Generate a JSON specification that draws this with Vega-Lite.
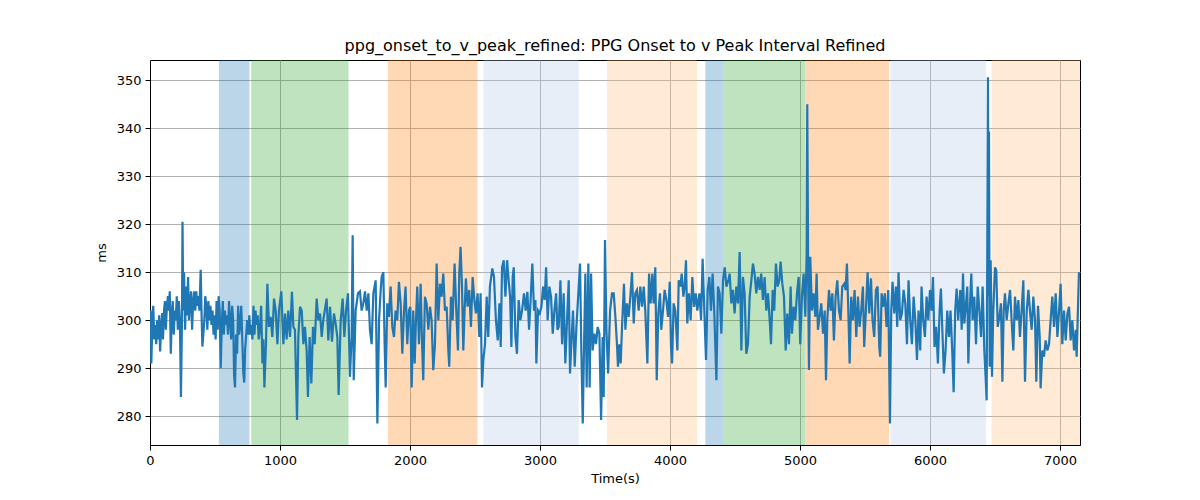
{
  "$schema": "https://vega.github.io/schema/vega-lite/v6.json",
  "width": 930,
  "height": 385,
  "autosize": {"type": "none"},
  "padding": {"left": 150, "top": 60, "right": 120, "bottom": 55},
  "background": "white",
  "config": {
    "font": "DejaVu Sans",
    "view": {"stroke": "black", "strokeWidth": 1},
    "axis": {
      "labelFont": "DejaVu Sans",
      "labelFontSize": 13,
      "labelColor": "black",
      "labelFlush": false,
      "titleFont": "DejaVu Sans",
      "titleFontSize": 13,
      "titleFontWeight": "normal",
      "titleColor": "black",
      "domainColor": "black",
      "tickColor": "black",
      "tickSize": 5,
      "labelPadding": 4,
      "gridColor": "#b0b0b0",
      "gridWidth": 1
    }
  },
  "title": {
    "text": "ppg_onset_to_v_peak_refined: PPG Onset to v Peak Interval Refined",
    "fontSize": 16,
    "fontWeight": "normal",
    "font": "DejaVu Sans",
    "color": "black",
    "offset": 6
  },
  "datasets": {
    "regions": [
      {"start": 530, "end": 765, "seg": "A"},
      {"start": 779, "end": 1527, "seg": "B"},
      {"start": 1831, "end": 2519, "seg": "C"},
      {"start": 2564, "end": 3298, "seg": "D"},
      {"start": 3515, "end": 4208, "seg": "E"},
      {"start": 4272, "end": 4410, "seg": "A"},
      {"start": 4410, "end": 5040, "seg": "B"},
      {"start": 5040, "end": 5685, "seg": "C"},
      {"start": 5697, "end": 6431, "seg": "D"},
      {"start": 6474, "end": 7154, "seg": "E"}
    ],
    "series": [
      {"t":0,"v":300},{"t":5,"v":302},{"t":10,"v":291},{"t":18,"v":299},{"t":25,"v":303},{"t":33,"v":296},{"t":40,"v":299},{"t":48,"v":295},{"t":55,"v":300},{"t":63,"v":296},
      {"t":70,"v":301},{"t":78,"v":293.5},{"t":86,"v":299},{"t":94,"v":301.5},{"t":100,"v":296},{"t":108,"v":302},{"t":115,"v":304},{"t":122,"v":298},{"t":130,"v":303},{"t":138,"v":305},
      {"t":145,"v":302},{"t":152,"v":306},{"t":160,"v":293},{"t":168,"v":301},{"t":175,"v":304},{"t":183,"v":297},{"t":190,"v":302},{"t":198,"v":300},{"t":206,"v":305},{"t":214,"v":298},
      {"t":222,"v":304},{"t":230,"v":300},{"t":238,"v":284},{"t":246,"v":300},{"t":250,"v":320.5},{"t":256,"v":302},{"t":262,"v":310},{"t":270,"v":298},{"t":278,"v":307},{"t":285,"v":301},
      {"t":293,"v":309},{"t":300,"v":300},{"t":308,"v":304},{"t":316,"v":306},{"t":324,"v":298},{"t":332,"v":304},{"t":340,"v":306},{"t":348,"v":302},{"t":356,"v":306},{"t":364,"v":303},
      {"t":372,"v":305},{"t":380,"v":302},{"t":390,"v":310.5},{"t":396,"v":302},{"t":403,"v":294.5},{"t":410,"v":297},{"t":418,"v":300},{"t":425,"v":305},{"t":433,"v":303},{"t":441,"v":298},
      {"t":449,"v":304},{"t":457,"v":300},{"t":465,"v":303},{"t":473,"v":299},{"t":481,"v":302},{"t":489,"v":297},{"t":497,"v":301},{"t":505,"v":296},{"t":512,"v":304},{"t":520,"v":298},
      {"t":528,"v":305},{"t":536,"v":302},{"t":544,"v":290},{"t":552,"v":299},{"t":560,"v":304},{"t":568,"v":297},{"t":576,"v":302},{"t":584,"v":299},{"t":592,"v":301},{"t":600,"v":297},
      {"t":608,"v":304},{"t":616,"v":300},{"t":624,"v":296},{"t":632,"v":303},{"t":640,"v":300},{"t":647,"v":288.5},{"t":654,"v":286},{"t":662,"v":297},{"t":670,"v":293},{"t":678,"v":303},
      {"t":686,"v":297},{"t":694,"v":299},{"t":702,"v":303},{"t":710,"v":296},{"t":718,"v":289},{"t":725,"v":287},{"t":732,"v":294},{"t":740,"v":297},{"t":748,"v":300},{"t":756,"v":297},
      {"t":764,"v":301},{"t":772,"v":297},{"t":780,"v":299},{"t":788,"v":296},{"t":796,"v":303},{"t":804,"v":297},{"t":812,"v":302},{"t":820,"v":299},{"t":828,"v":301},{"t":836,"v":296},
      {"t":845,"v":298},{"t":855,"v":303},{"t":865,"v":291},{"t":872,"v":296},{"t":880,"v":286},
      {"t":892,"v":295},{"t":903,"v":307.6},{"t":915,"v":298.6},{"t":928,"v":300.7},{"t":941,"v":296.5},{"t":954,"v":304.5},{"t":967,"v":302},{"t":980,"v":295},{"t":992,"v":302},{"t":1010,"v":306},
      {"t":1026,"v":295},{"t":1039,"v":301.4},{"t":1051,"v":296},{"t":1064,"v":302},{"t":1077,"v":296.5},{"t":1092,"v":305.9},{"t":1103,"v":298.6},{"t":1115,"v":298},{"t":1131,"v":279.2},{"t":1141,"v":296.5},
      {"t":1154,"v":302.8},{"t":1167,"v":302},{"t":1180,"v":295},{"t":1192,"v":298.6},{"t":1205,"v":293.7},{"t":1215,"v":284},{"t":1228,"v":296.5},{"t":1241,"v":286.8},{"t":1254,"v":298.6},{"t":1267,"v":295},
      {"t":1282,"v":304.5},{"t":1295,"v":300},{"t":1308,"v":301.4},{"t":1321,"v":296.5},{"t":1333,"v":300},{"t":1349,"v":302.8},{"t":1359,"v":304.5},{"t":1372,"v":295.8},{"t":1385,"v":302.8},{"t":1400,"v":295.5},
      {"t":1415,"v":301.4},{"t":1428,"v":299.3},{"t":1441,"v":296.5},{"t":1451,"v":284.4},{"t":1467,"v":300},{"t":1482,"v":304.5},{"t":1495,"v":296.5},{"t":1508,"v":302},{"t":1523,"v":305.6},{"t":1538,"v":288.2},
      {"t":1551,"v":296.5},{"t":1559,"v":317.7},{"t":1567,"v":287.5},{"t":1582,"v":302},{"t":1600,"v":305.6},{"t":1615,"v":306},{"t":1628,"v":302},{"t":1641,"v":303.5},{"t":1654,"v":306},{"t":1667,"v":302},
      {"t":1680,"v":305.6},{"t":1692,"v":298},{"t":1705,"v":295},{"t":1718,"v":305.6},{"t":1736,"v":308.3},{"t":1749,"v":278.5},{"t":1762,"v":300},{"t":1774,"v":306},
      {"t":1782,"v":309},{"t":1795,"v":310},{"t":1805,"v":295},{"t":1813,"v":286},{"t":1825,"v":303.5},{"t":1838,"v":300.7},{"t":1851,"v":307},{"t":1864,"v":298.6},{"t":1877,"v":296.5},{"t":1889,"v":302},
      {"t":1902,"v":300},{"t":1915,"v":308},{"t":1928,"v":303.5},{"t":1941,"v":293},{"t":1954,"v":302},{"t":1966,"v":307},{"t":1979,"v":295},{"t":1992,"v":302},{"t":2002,"v":302.8},{"t":2013,"v":286},
      {"t":2025,"v":302},{"t":2036,"v":291},{"t":2046,"v":300},{"t":2056,"v":307},{"t":2069,"v":295},{"t":2082,"v":307.6},{"t":2092,"v":295.8},{"t":2102,"v":287.5},{"t":2115,"v":304.9},{"t":2128,"v":303.5},
      {"t":2141,"v":298},{"t":2154,"v":302.8},{"t":2166,"v":300},{"t":2179,"v":289.6},{"t":2192,"v":295},{"t":2205,"v":311.8},{"t":2218,"v":300},{"t":2231,"v":307.6},{"t":2243,"v":304.9},{"t":2256,"v":309.7},
      {"t":2269,"v":302},{"t":2282,"v":302.8},{"t":2295,"v":293.7},{"t":2302,"v":290.3},{"t":2315,"v":304.9},{"t":2328,"v":300},{"t":2343,"v":311.8},{"t":2356,"v":302},{"t":2369,"v":293.7},{"t":2379,"v":309.7},
      {"t":2389,"v":315.3},{"t":2400,"v":307},{"t":2410,"v":293.7},{"t":2420,"v":302},{"t":2430,"v":308.7},{"t":2443,"v":302.8},{"t":2456,"v":306.3},{"t":2469,"v":298.6},{"t":2482,"v":309},{"t":2495,"v":304.2},
      {"t":2507,"v":301.4},{"t":2520,"v":305.6},{"t":2533,"v":296.5},{"t":2543,"v":305.6},{"t":2554,"v":286},{"t":2564,"v":291.7},{"t":2577,"v":295},{"t":2590,"v":304.9},{"t":2602,"v":296.5},{"t":2615,"v":307},
      {"t":2633,"v":310.8},{"t":2646,"v":309},{"t":2661,"v":300},
      {"t":2675,"v":295.8},{"t":2688,"v":303.5},{"t":2698,"v":294.4},{"t":2708,"v":311},{"t":2721,"v":312.5},{"t":2734,"v":304.9},{"t":2747,"v":312.5},{"t":2759,"v":308.3},{"t":2770,"v":304.9},{"t":2780,"v":294.4},
      {"t":2790,"v":309},{"t":2798,"v":311},{"t":2811,"v":296.5},{"t":2823,"v":293},{"t":2836,"v":304.2},{"t":2849,"v":300},{"t":2862,"v":302},{"t":2877,"v":305.6},{"t":2890,"v":302},{"t":2903,"v":305.9},
      {"t":2916,"v":298},{"t":2929,"v":304.9},{"t":2941,"v":311.8},{"t":2954,"v":302},{"t":2965,"v":304.2},{"t":2972,"v":291},{"t":2985,"v":302},{"t":2998,"v":301.4},{"t":3011,"v":302.8},{"t":3024,"v":307},
      {"t":3036,"v":304.2},{"t":3047,"v":311},{"t":3059,"v":300},{"t":3072,"v":307},{"t":3085,"v":304.9},{"t":3098,"v":297.2},{"t":3111,"v":302},{"t":3124,"v":305.6},{"t":3134,"v":298},{"t":3144,"v":298.6},
      {"t":3157,"v":308.3},{"t":3170,"v":295},{"t":3182,"v":305.6},{"t":3195,"v":291},{"t":3208,"v":300},{"t":3221,"v":308.3},{"t":3231,"v":288.9},{"t":3241,"v":295},{"t":3254,"v":302},{"t":3267,"v":290.3},
      {"t":3280,"v":298.6},{"t":3295,"v":305.6},{"t":3308,"v":311.8},{"t":3318,"v":293.7},{"t":3329,"v":278.5},{"t":3339,"v":295},{"t":3349,"v":309.7},{"t":3359,"v":286},{"t":3372,"v":311.8},{"t":3382,"v":286},
      {"t":3393,"v":309.7},{"t":3405,"v":293.7},{"t":3418,"v":297.2},{"t":3431,"v":295},{"t":3444,"v":298.6},{"t":3457,"v":297.2},{"t":3470,"v":279.2},{"t":3482,"v":296.5},{"t":3490,"v":284},{"t":3500,"v":316.7},
      {"t":3511,"v":298},{"t":3524,"v":288.9},{"t":3539,"v":302},{"t":3554,"v":305.6},
      {"t":3567,"v":305.6},{"t":3580,"v":300.7},{"t":3592,"v":295},{"t":3600,"v":290.3},{"t":3610,"v":295},{"t":3621,"v":291},{"t":3631,"v":298.6},{"t":3646,"v":307.6},{"t":3657,"v":298},{"t":3669,"v":303.5},
      {"t":3682,"v":300.7},{"t":3695,"v":304.9},{"t":3708,"v":310},{"t":3721,"v":299.3},{"t":3733,"v":305.6},{"t":3746,"v":306.3},{"t":3759,"v":302},{"t":3772,"v":307},{"t":3785,"v":302.8},{"t":3798,"v":307},
      {"t":3810,"v":302},{"t":3826,"v":291},{"t":3839,"v":309.7},{"t":3851,"v":303.5},{"t":3864,"v":309.7},{"t":3874,"v":303.5},{"t":3887,"v":311},{"t":3898,"v":287.5},{"t":3910,"v":301.4},{"t":3923,"v":305.6},
      {"t":3933,"v":298},{"t":3946,"v":302},{"t":3959,"v":306.3},{"t":3972,"v":304.2},{"t":3985,"v":300.7},{"t":3998,"v":308},{"t":4008,"v":294.4},{"t":4016,"v":291},{"t":4028,"v":303.5},{"t":4041,"v":302},
      {"t":4057,"v":293.7},{"t":4067,"v":308.3},{"t":4080,"v":307},{"t":4090,"v":309.7},{"t":4103,"v":304.9},{"t":4113,"v":307},{"t":4123,"v":312.5},{"t":4133,"v":299.3},{"t":4146,"v":305.6},{"t":4159,"v":300},
      {"t":4172,"v":309},{"t":4185,"v":302.8},{"t":4198,"v":305.6},{"t":4210,"v":302},{"t":4226,"v":305.6},{"t":4239,"v":300},{"t":4251,"v":312.8},{"t":4264,"v":302},{"t":4277,"v":291.7},{"t":4290,"v":306.3},
      {"t":4303,"v":309},{"t":4315,"v":302},{"t":4328,"v":309.7},{"t":4341,"v":301.4},{"t":4357,"v":287.5},{"t":4369,"v":307},{"t":4382,"v":305.6},{"t":4395,"v":297.2},{"t":4408,"v":308.3},{"t":4421,"v":311},
      {"t":4434,"v":307},{"t":4449,"v":308.3},
      {"t":4459,"v":309.7},{"t":4472,"v":303.5},{"t":4484,"v":306.3},{"t":4497,"v":301.4},{"t":4510,"v":307},{"t":4523,"v":303.5},{"t":4536,"v":314.2},{"t":4549,"v":293.7},{"t":4561,"v":309},{"t":4574,"v":305.6},
      {"t":4587,"v":293},{"t":4600,"v":295},{"t":4613,"v":304.9},{"t":4626,"v":308.3},{"t":4638,"v":311.8},{"t":4651,"v":309.7},{"t":4664,"v":305.6},{"t":4677,"v":309},{"t":4690,"v":306.3},{"t":4702,"v":309.7},
      {"t":4715,"v":304.2},{"t":4728,"v":309},{"t":4741,"v":302},{"t":4754,"v":305.6},{"t":4767,"v":300},{"t":4777,"v":295},{"t":4790,"v":306.3},{"t":4802,"v":302},{"t":4815,"v":311.8},{"t":4828,"v":307},
      {"t":4841,"v":308.3},{"t":4851,"v":312.2},{"t":4864,"v":307.6},{"t":4877,"v":304.9},{"t":4890,"v":293.7},{"t":4902,"v":301.4},{"t":4915,"v":295},{"t":4928,"v":307},{"t":4938,"v":297.2},{"t":4951,"v":302.8},
      {"t":4964,"v":300},{"t":4977,"v":305.6},{"t":4990,"v":309},{"t":5002,"v":295},{"t":5015,"v":304.9},{"t":5028,"v":309.7},{"t":5041,"v":300.7},{"t":5051,"v":313.9},{"t":5056,"v":345},{"t":5064,"v":305},
      {"t":5069,"v":289.6},{"t":5079,"v":313.2},{"t":5092,"v":302},{"t":5105,"v":305.6},{"t":5118,"v":300.7},{"t":5128,"v":309.7},{"t":5138,"v":298},{"t":5151,"v":300.7},{"t":5164,"v":303.5},{"t":5177,"v":297.2},
      {"t":5190,"v":302},{"t":5200,"v":287.5},{"t":5210,"v":300},{"t":5223,"v":306.3},{"t":5236,"v":302},{"t":5249,"v":305.6},{"t":5261,"v":295.8},{"t":5274,"v":304.9},{"t":5287,"v":308.3},{"t":5300,"v":302},
      {"t":5313,"v":300},{"t":5325,"v":307},{"t":5341,"v":307.6},
      {"t":5351,"v":306.3},{"t":5361,"v":311.8},{"t":5371,"v":302.8},{"t":5382,"v":291},{"t":5394,"v":304.9},{"t":5407,"v":300},{"t":5420,"v":306.3},{"t":5433,"v":296.5},{"t":5446,"v":304.9},{"t":5458,"v":298.6},
      {"t":5471,"v":302},{"t":5484,"v":307},{"t":5494,"v":294.4},{"t":5507,"v":302},{"t":5520,"v":310},{"t":5533,"v":301.4},{"t":5546,"v":308.7},{"t":5558,"v":300},{"t":5571,"v":296.5},{"t":5584,"v":306.3},
      {"t":5597,"v":307},{"t":5610,"v":294.4},{"t":5617,"v":292.4},{"t":5628,"v":305.6},{"t":5641,"v":302.8},{"t":5653,"v":305.6},{"t":5666,"v":298.6},{"t":5679,"v":306.3},{"t":5692,"v":278.5},{"t":5702,"v":302},
      {"t":5712,"v":308},{"t":5725,"v":301.4},{"t":5738,"v":307},{"t":5748,"v":298.6},{"t":5758,"v":310},{"t":5771,"v":300},{"t":5784,"v":301.4},{"t":5797,"v":306.3},{"t":5810,"v":303.5},{"t":5823,"v":295},
      {"t":5835,"v":308.3},{"t":5848,"v":300},{"t":5861,"v":295},{"t":5874,"v":304.9},{"t":5887,"v":300},{"t":5900,"v":291.7},{"t":5912,"v":302},{"t":5925,"v":293.7},{"t":5935,"v":307},{"t":5948,"v":300},
      {"t":5961,"v":296.5},{"t":5974,"v":304.9},{"t":5987,"v":300},{"t":6000,"v":306.3},{"t":6012,"v":302},{"t":6023,"v":309},{"t":6035,"v":294.4},{"t":6048,"v":298.6},{"t":6061,"v":291},{"t":6074,"v":302},
      {"t":6084,"v":306.6},{"t":6097,"v":296.5},{"t":6107,"v":288.9},{"t":6120,"v":293.7},{"t":6133,"v":302},{"t":6146,"v":296.5},{"t":6158,"v":302},{"t":6171,"v":293.7},{"t":6182,"v":285},{"t":6194,"v":302},
      {"t":6205,"v":306.6},{"t":6217,"v":300},{"t":6233,"v":306.3},
      {"t":6244,"v":298},{"t":6254,"v":309.7},{"t":6264,"v":299.3},{"t":6277,"v":303.5},{"t":6287,"v":307},{"t":6295,"v":291},{"t":6308,"v":303.5},{"t":6318,"v":309.7},{"t":6328,"v":300},{"t":6341,"v":304.9},
      {"t":6354,"v":295},{"t":6367,"v":307},{"t":6380,"v":302},{"t":6393,"v":296.5},{"t":6405,"v":307},{"t":6418,"v":293.7},{"t":6428,"v":288.2},{"t":6436,"v":283.3},{"t":6446,"v":350.6},{"t":6450,"v":305},
      {"t":6454,"v":339.3},{"t":6459,"v":290.3},{"t":6467,"v":312.5},{"t":6477,"v":288.2},{"t":6487,"v":302},{"t":6500,"v":311},{"t":6510,"v":310.4},{"t":6521,"v":298.6},{"t":6534,"v":300.7},{"t":6546,"v":303.5},
      {"t":6557,"v":287.2},{"t":6567,"v":302},{"t":6577,"v":305.6},{"t":6590,"v":300},{"t":6603,"v":303.5},{"t":6616,"v":306.3},{"t":6628,"v":300},{"t":6641,"v":293.7},{"t":6654,"v":304.9},{"t":6667,"v":300},
      {"t":6680,"v":304.2},{"t":6692,"v":296.5},{"t":6705,"v":302},{"t":6718,"v":308.3},{"t":6731,"v":287.2},{"t":6744,"v":302},{"t":6757,"v":306.3},{"t":6769,"v":302},{"t":6782,"v":298},{"t":6795,"v":304.9},
      {"t":6808,"v":300},{"t":6818,"v":287.2},{"t":6831,"v":303},{"t":6844,"v":296.5},{"t":6851,"v":285.8},{"t":6864,"v":293.7},{"t":6877,"v":292.4},{"t":6890,"v":295.8},{"t":6903,"v":293.7},{"t":6916,"v":295},
      {"t":6928,"v":300},{"t":6941,"v":304.9},{"t":6954,"v":298.6},{"t":6967,"v":305.6},{"t":6980,"v":296.5},{"t":6993,"v":302},{"t":7005,"v":307.6},{"t":7018,"v":295},{"t":7031,"v":302},{"t":7044,"v":295.8},
      {"t":7057,"v":301.4},{"t":7070,"v":302.8},{"t":7082,"v":295.8},{"t":7095,"v":300},{"t":7108,"v":293.7},{"t":7121,"v":298},{"t":7128,"v":292.4},{"t":7146,"v":310}
    ]
  },
  "layer": [
    {
      "data": {"name": "regions"},
      "mark": {"type": "rect", "opacity": 0.3},
      "encoding": {
        "x": {"field": "start", "type": "quantitative"},
        "x2": {"field": "end"},
        "color": {
          "field": "seg",
          "type": "nominal",
          "legend": null,
          "scale": {
            "domain": ["A", "B", "C", "D", "E"],
            "range": ["#1f77b4", "#2ca02c", "#ff7f0e", "#aec7e8", "#ffbb78"]
          }
        }
      }
    },
    {
      "data": {"name": "series"},
      "mark": {"type": "line", "color": "#1f77b4", "strokeWidth": 2.2, "clip": true},
      "encoding": {
        "x": {
          "field": "t",
          "type": "quantitative",
          "title": "Time(s)",
          "scale": {"domain": [0, 7154], "nice": false, "zero": false},
          "axis": {"values": [0, 1000, 2000, 3000, 4000, 5000, 6000, 7000], "format": "d", "grid": true, "titlePadding": 5}
        },
        "y": {
          "field": "v",
          "type": "quantitative",
          "title": "ms",
          "scale": {"domain": [274, 354.2], "nice": false, "zero": false},
          "axis": {"values": [280, 290, 300, 310, 320, 330, 340, 350], "grid": true, "titlePadding": 8}
        }
      }
    }
  ]
}
